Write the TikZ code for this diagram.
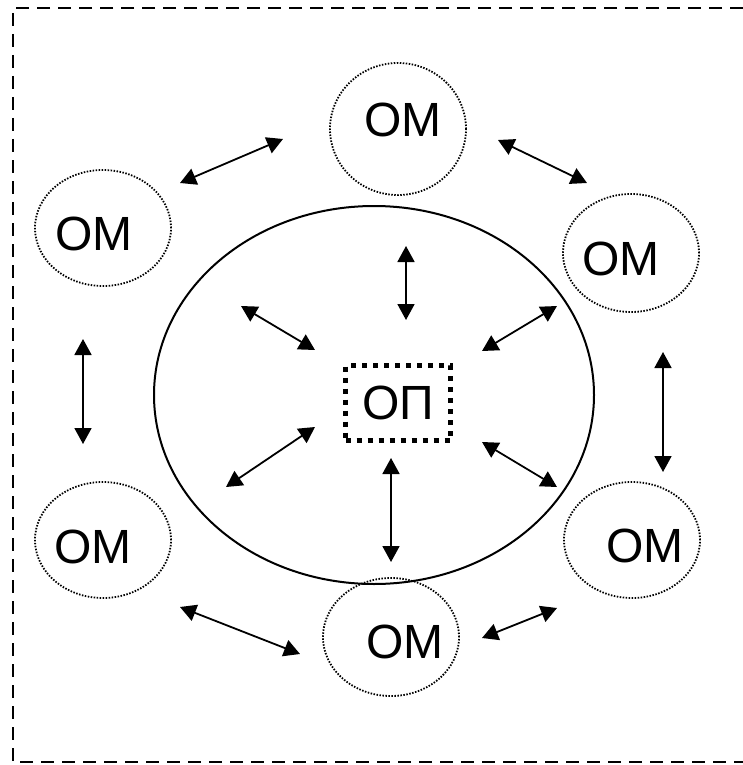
\documentclass[tikz,border=0pt]{standalone}
\usepackage{fontspec}
\setmainfont{Liberation Sans}
\usetikzlibrary{arrows.meta,shapes.geometric}
\tikzset{
  link/.style={{Triangle[length=16pt,width=17pt]}-{Triangle[length=16pt,width=17pt]}, line width=1.8pt},
  omring/.style={ellipse, draw, dash pattern=on 1.5pt off 1.5pt, line width=1.8pt, inner sep=0pt},
  lbl/.style={font=\fontsize{48}{48}\selectfont, inner sep=0pt},
}

\begin{document}
\begin{tikzpicture}[x=1pt,y=-1pt]
    \useasboundingbox (0,0) rectangle (743,765);
    \draw [dash pattern=on 13pt off 8pt, line width=2pt] (743,8) -- (13,8) -- (13,762) -- (743,762);

    \node [ellipse, draw, line width=2pt, minimum width=440pt, minimum height=378pt] (op) at (374,395) {};

    \node [omring, minimum width=136pt, minimum height=132pt] (om1) at (398,129) {};
    \node [omring, minimum width=136pt, minimum height=118pt] (om2) at (631,253) {};
    \node [omring, minimum width=136pt, minimum height=116pt] (om3) at (632,540) {};
    \node [omring, minimum width=136pt, minimum height=118pt] (om4) at (391,637) {};
    \node [omring, minimum width=136pt, minimum height=116pt] (om5) at (103,540) {};
    \node [omring, minimum width=136pt, minimum height=116pt] (om6) at (103,228) {};

    \node [lbl] (t1) at (403,120) {ОМ};
    \node [lbl] (t2) at (621,259) {ОМ};
    \node [lbl] (t3) at (645,546) {ОМ};
    \node [lbl] (t4) at (405,642) {ОМ};
    \node [lbl] (t5) at (93,547) {ОМ};
    \node [lbl] (t6) at (94,234) {ОМ};

    \node [lbl, draw, line width=5pt, dash pattern=on 5pt off 6pt, minimum width=105pt, minimum height=75pt] (core) at (398,403) {ОП};

    \coordinate (a1) at (180,183);  \coordinate (b1) at (283,139);
    \coordinate (a2) at (498,140);  \coordinate (b2) at (587,183);
    \coordinate (a3) at (83,339);   \coordinate (b3) at (83,444);
    \coordinate (a4) at (663,352);  \coordinate (b4) at (663,472);
    \coordinate (a5) at (180,607);  \coordinate (b5) at (300,654);
    \coordinate (a6) at (482,638);  \coordinate (b6) at (557,608);
    \coordinate (a7) at (406,246);  \coordinate (b7) at (406,320);
    \coordinate (a8) at (241,306);  \coordinate (b8) at (315,350);
    \coordinate (a9) at (557,306);  \coordinate (b9) at (482,351);
    \coordinate (a10) at (226,487); \coordinate (b10) at (315,427);
    \coordinate (a11) at (482,442); \coordinate (b11) at (557,487);
    \coordinate (a12) at (391,458); \coordinate (b12) at (391,562);

    \foreach \i in {1,...,12}
        \draw [link] (a\i) -- (b\i);
\end{tikzpicture}
\end{document}
